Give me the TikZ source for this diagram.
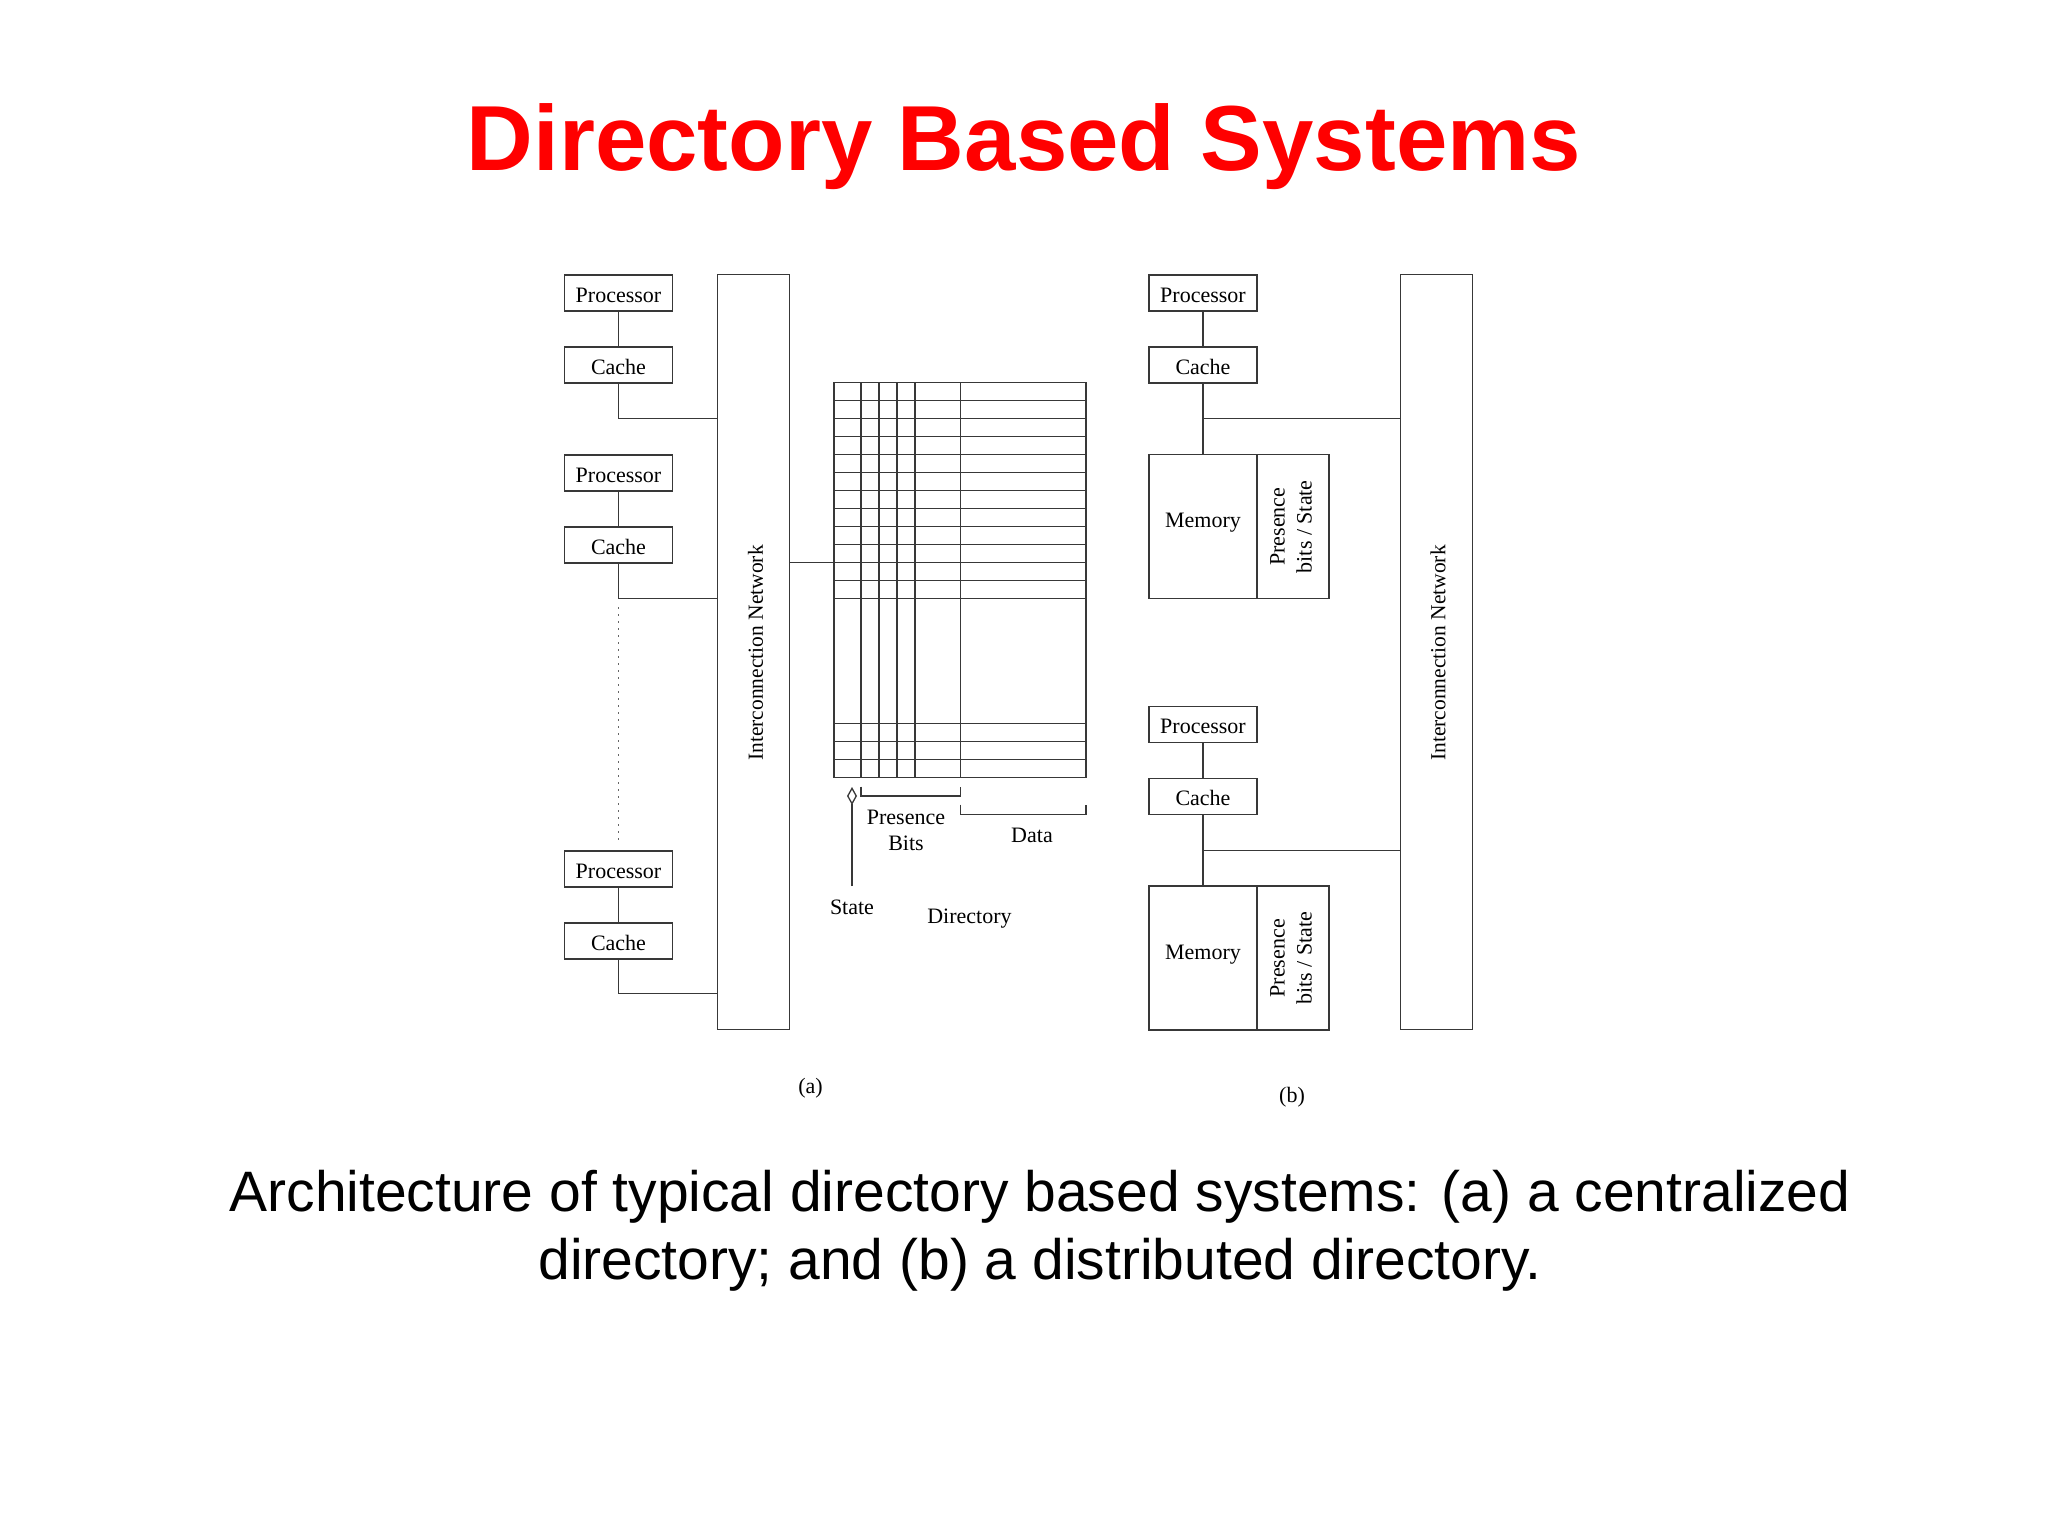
\documentclass[tikz,border=0pt]{standalone}
\usepackage{fontspec}
\setmainfont{Liberation Serif}
\newfontfamily\titlefont{Liberation Sans}
\newfontfamily\capfont{Liberation Sans}
\usetikzlibrary{arrows.meta}
\definecolor{inkc}{HTML}{383838}
\tikzset{
  x=1pt,y=-1pt,
  ln/.style={draw=inkc,line width=1.4pt},
  lab/.style={font=\fontsize{22}{26}\selectfont,text=black,inner sep=0pt},
  smallbox/.style={ln,lab,rectangle,anchor=center,minimum width=108.5pt,minimum height=36pt,text height=18pt,text depth=0pt},
  rbox/.style={ln,lab,rectangle,anchor=center,minimum width=108pt,minimum height=36pt,text height=18pt,text depth=0pt},
  netbox/.style={ln,rectangle,anchor=center,minimum height=755pt,inner sep=0pt},
  memb/.style={ln,lab,rectangle,anchor=center,minimum width=108pt,minimum height=144pt},
  presb/.style={ln,rectangle,anchor=center,minimum width=72pt,minimum height=144pt},
  vlab/.style={lab,rotate=90,anchor=center},
  netlab/.style={vlab,font=\fontsize{21.5}{26}\selectfont},
}
\begin{document}
\begin{tikzpicture}
\useasboundingbox (0,0) rectangle (2048,1536);
\fill[white] (0,0) rectangle (2048,1536);
% title and caption
\node[inner sep=0pt,anchor=base,text=red,font=\titlefont\bfseries\fontsize{92.4}{100}\selectfont] (title) at (1024,171) {Directory Based Systems};
\node[inner sep=0pt,anchor=base,font=\capfont\fontsize{57}{68}\selectfont] (cap1) at (1040,1211.5) {Architecture of typical directory based systems: (a) a centralized};
\node[inner sep=0pt,anchor=base,font=\capfont\fontsize{57}{68}\selectfont] (cap2) at (1040,1279.5) {directory; and (b) a distributed directory.};
% (a) processors
\node[smallbox] (pa1) at (618.5,293) {Processor};
\node[smallbox] (ca1) at (618.5,365) {Cache};
\node[smallbox] (pa2) at (618.5,473) {Processor};
\node[smallbox] (ca2) at (618.5,545) {Cache};
\node[smallbox] (pa3) at (618.5,869) {Processor};
\node[smallbox] (ca3) at (618.5,941) {Cache};
\node[netbox,minimum width=72pt] (neta) at (753.3,652) {};
\node[netlab] (netatext) at (755.5,653) {Interconnection Network};
\coordinate (ja1) at (neta.west |- 0,418.7);
\coordinate (ja2) at (neta.west |- 0,598.7);
\coordinate (ja3) at (neta.west |- 0,993.7);
\draw[ln] (pa1) -- (ca1);
\draw[ln] (pa2) -- (ca2);
\draw[ln] (pa3) -- (ca3);
\draw[ln] (ca1.south) |- (ja1);
\draw[ln] (ca2.south) |- (ja2);
\draw[ln] (ca3.south) |- (ja3);
\coordinate (dota) at (618.5,607);
\coordinate (dotb) at (618.5,843);
\draw[black!60,line width=1.5pt,dash pattern=on 2pt off 5pt] (dota) -- (dotb);
% directory grid
\foreach \yy in {382.3,400.3,418.3,436.3,454.3,472.3,490.3,508.3,526.3,544.3,562.3,580.3,598.3,723.7,741.7,759.7,777.7}
  \draw[ln] (834,\yy) -- (1086,\yy);
\foreach \xx in {834,861,879,897,915,960.5,1086}
  \draw[ln] (\xx,382.3) -- (\xx,777.7);
\coordinate (gridin) at (834,562.3);
\draw[ln] (neta.east |- gridin) -- (gridin);
% brackets and labels
\draw[ln] (861,786.7) -- (861,796) -- (960.5,796) -- (960.5,786.7);
\draw[ln] (960.5,804.7) -- (960.5,814.3) -- (1086,814.3) -- (1086,804.7);
\node[lab] (state) at (852,907) {State};
\coordinate (stb) at (852,886);
\coordinate (stt) at (852,787);
\draw[ln,-{Diamond[open,length=18pt,width=10pt,line width=1.3pt]}] (stb) -- (stt);
\node[lab] (pres) at (906,817) {Presence};
\node[lab] (bits) at (906,843) {Bits};
\node[lab] (data) at (1032,835) {Data};
\node[lab] (dir) at (969.5,918.5) {Directory};
\node[lab] (lba) at (810.5,1088) {(a)};
% (b)
\node[rbox] (pb1) at (1203,293) {Processor};
\node[rbox] (cb1) at (1203,365) {Cache};
\node[memb] (mb1) at (1203,526.7) {};
\node[presb] (sb1) at (1293,526.7) {};
\node[lab] (mt1) at (1203,522.5) {Memory};
\node[vlab] (st1a) at (1277.5,526.7) {Presence};
\node[vlab] (st1b) at (1304,526.7) {bits / State};
\node[rbox] (pb2) at (1203,724.3) {Processor};
\node[rbox] (cb2) at (1203,796.5) {Cache};
\node[memb] (mb2) at (1203,958) {};
\node[presb] (sb2) at (1293,958) {};
\node[lab] (mt2) at (1203,954.5) {Memory};
\node[vlab] (st2a) at (1277.5,958.3) {Presence};
\node[vlab] (st2b) at (1304,958.3) {bits / State};
\node[netbox,minimum width=72pt] (netb) at (1436.3,652) {};
\node[netlab] (netbtext) at (1438,653) {Interconnection Network};
\coordinate (jb1) at (cb1.south |- 0,418.7);
\coordinate (jb2) at (cb2.south |- 0,850.3);
\draw[ln] (pb1) -- (cb1);
\draw[ln] (pb2) -- (cb2);
\draw[ln] (cb1) -- (mb1);
\draw[ln] (cb2) -- (mb2);
\draw[ln] (jb1) -- (netb.west |- jb1);
\draw[ln] (jb2) -- (netb.west |- jb2);
\node[lab] (lbb) at (1292,1097) {(b)};
\end{tikzpicture}
\end{document}
